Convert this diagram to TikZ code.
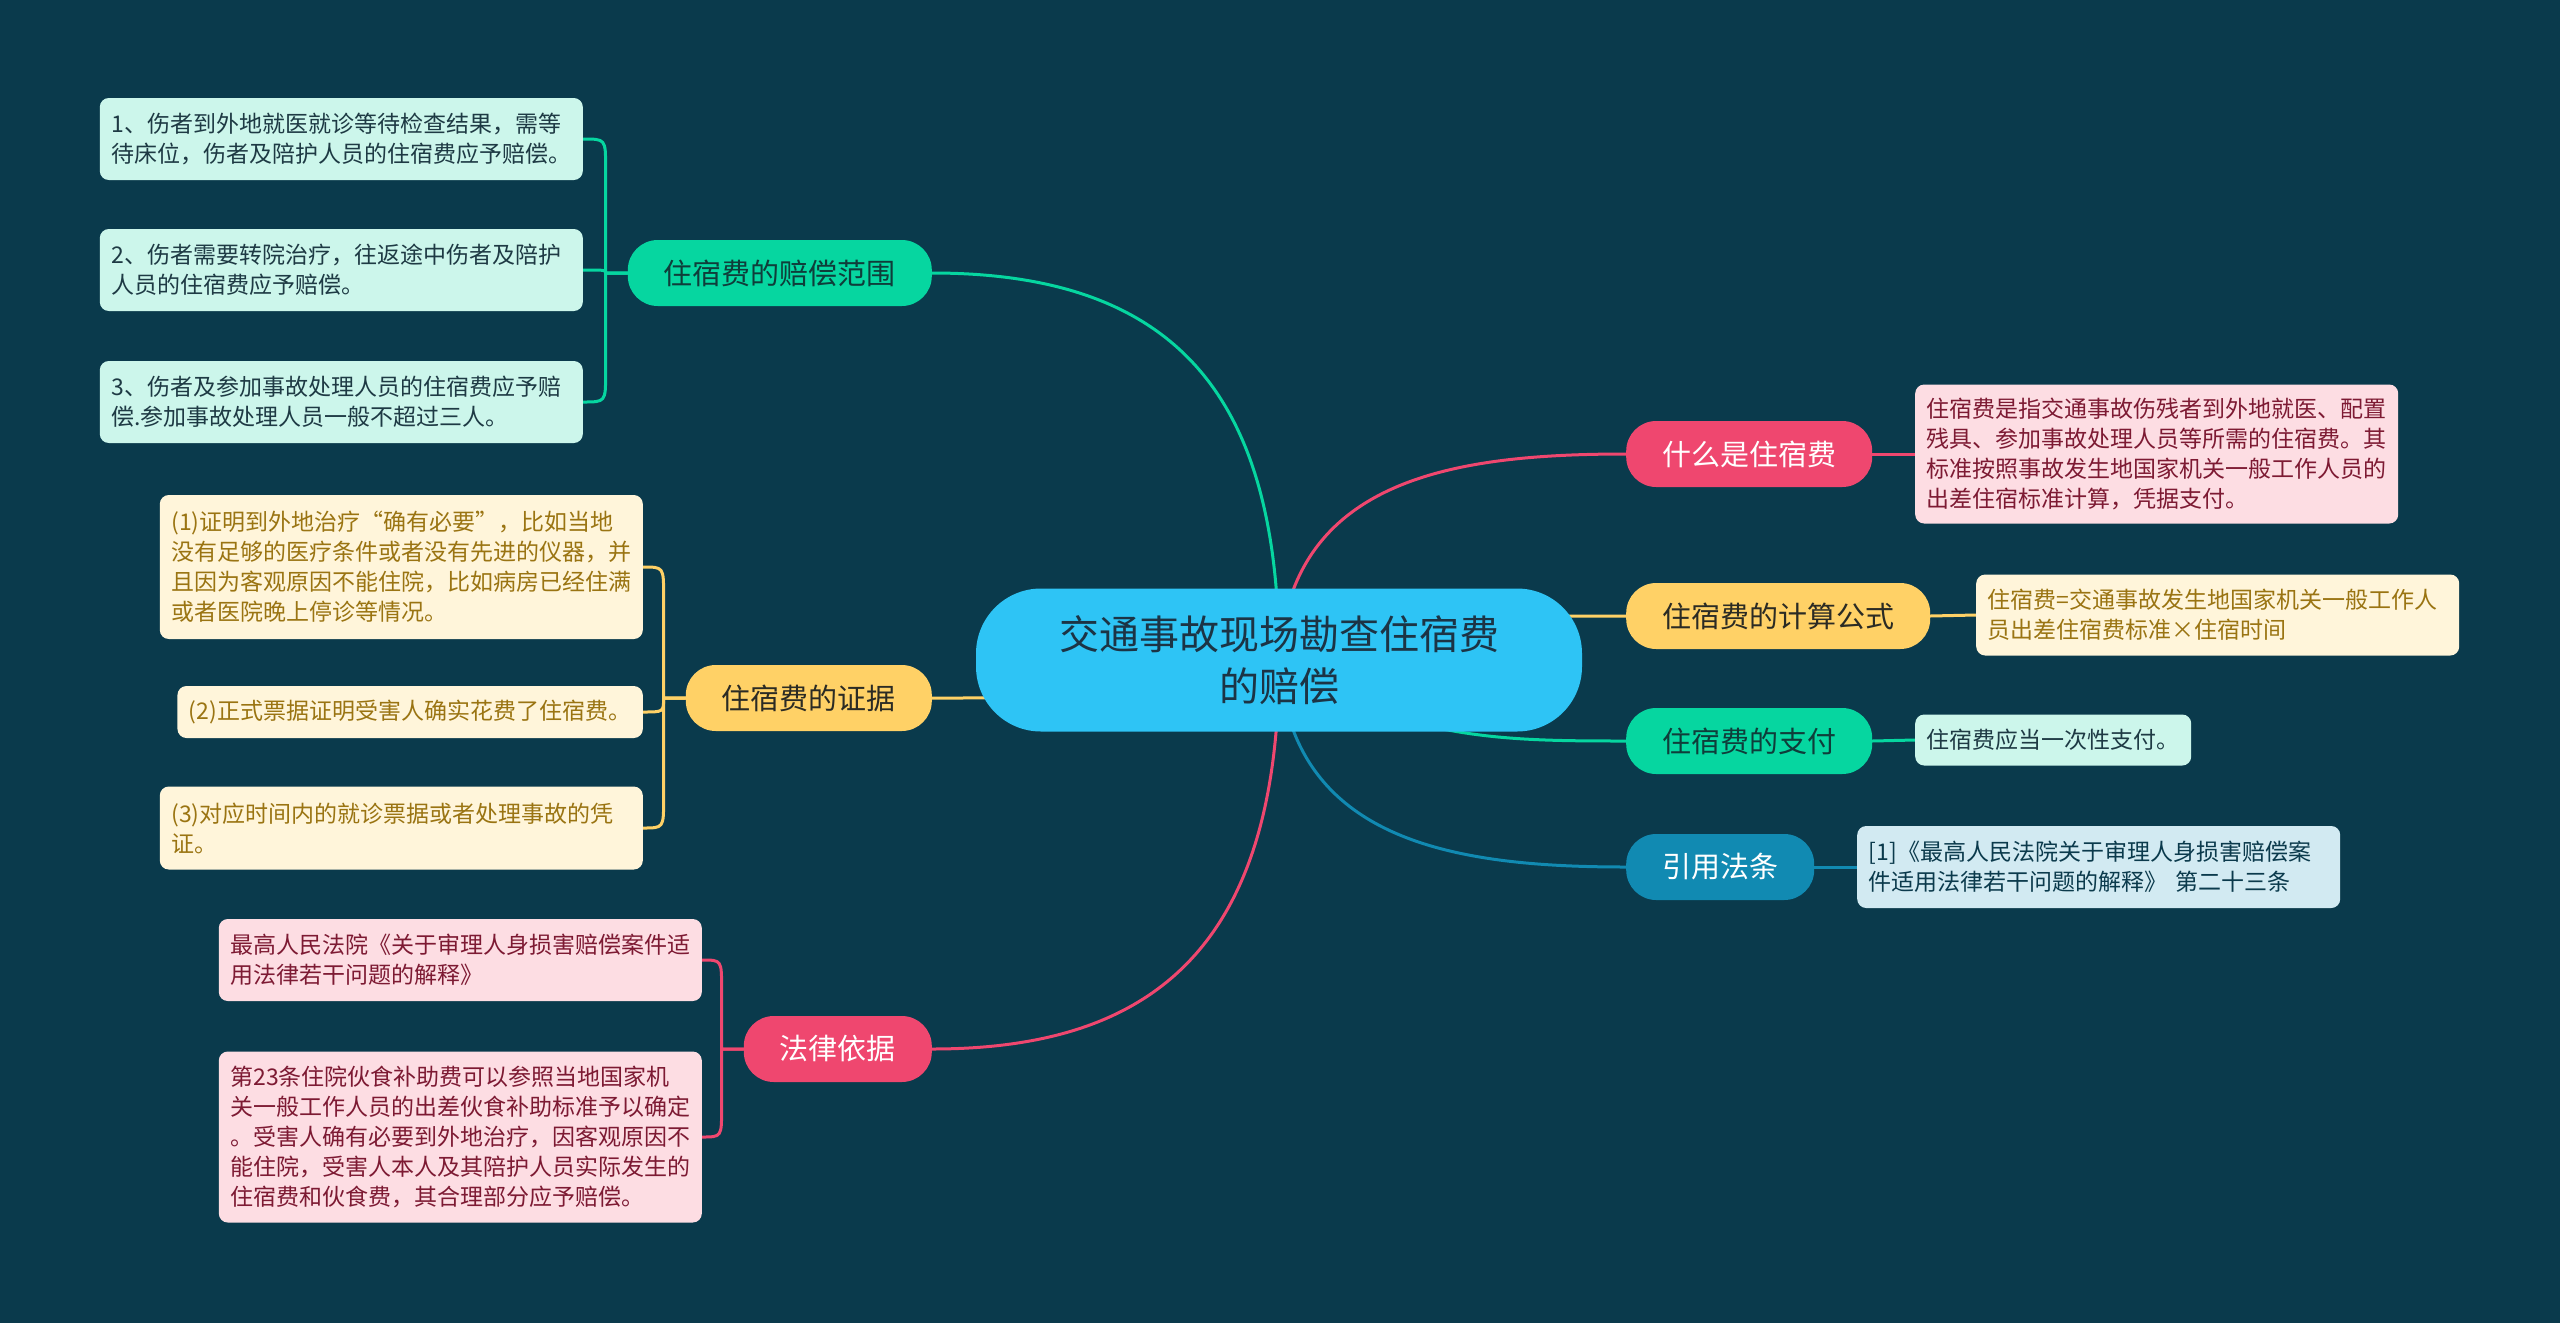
\documentclass[tikz,border=0pt]{standalone}
\usepackage{fontspec}
\newfontfamily\cjk{Noto Sans CJK SC}
\usetikzlibrary{calc}
\pgfdeclarelayer{bg}
\pgfsetlayers{bg,main}
\definecolor{bgc}{HTML}{0A3A4C}
\definecolor{cblue}{HTML}{2EC4F5}
\definecolor{ctext}{HTML}{1C3445}
\definecolor{gr}{HTML}{06D6A0}
\definecolor{rd}{HTML}{EF476F}
\definecolor{yl}{HTML}{FFD166}
\definecolor{bl}{HTML}{118AB2}
\definecolor{darkg}{HTML}{0F3D3A}
\definecolor{darky}{HTML}{2B2B24}
\definecolor{mintfill}{HTML}{CCF6EB}
\definecolor{minttext}{HTML}{1E3A44}
\definecolor{creamfill}{HTML}{FFF5DA}
\definecolor{creamtext}{HTML}{9A7412}
\definecolor{pinkfill}{HTML}{FDDDE3}
\definecolor{pinktext}{HTML}{7D1A33}
\definecolor{bluefill}{HTML}{D2EAF2}
\definecolor{bluetext}{HTML}{0B3A4C}
\newcommand\leafconn[5]{%
  \draw[#1] (#2.west) -- (#3) -- ($(#3 |- #4.east)+(0,#5)$) .. controls (#3 |- #4.east) .. (#4.east);}
\begin{document}
\begin{tikzpicture}[x=1pt,y=-1pt,
  rootnode/.style={fill=cblue, text=ctext, rounded corners=65, minimum width=606, minimum height=143,
    align=center, inner sep=0, font=\cjk\fontsize{40}{52}\selectfont},
  branch/.style={rounded corners=30, minimum height=66, inner xsep=36, inner ysep=0,
    font=\cjk\fontsize{29}{35}\selectfont},
  gbr/.style={branch, fill=gr, text=darkg},
  ybr/.style={branch, fill=yl, text=darky},
  rbr/.style={branch, fill=rd, text=white},
  bbr/.style={branch, fill=bl, text=white},
  leaf/.style={rounded corners=9, inner xsep=11.5, inner ysep=0, align=left,
    font=\cjk\fontsize{23}{30}\selectfont},
  wide/.style={text width=460},
  mleaf/.style={leaf, fill=mintfill, text=minttext},
  cleaf/.style={leaf, fill=creamfill, text=creamtext},
  pleaf/.style={leaf, fill=pinkfill, text=pinktext},
  bleaf/.style={leaf, fill=bluefill, text=bluetext},
  conn/.style={line width=3, line cap=round},
  gline/.style={conn, draw=gr},
  rline/.style={conn, draw=rd},
  yline/.style={conn, draw=yl},
  bline/.style={conn, draw=bl}]
\useasboundingbox (0,0) rectangle (2560,1323);
\begin{pgfonlayer}{bg}
  \fill[bgc] (0,0) rectangle (2560,1323);
\end{pgfonlayer}

% root
\node[rootnode] (root) at (1279,660) {交通事故现场勘查住宿费\\的赔偿};

% branches
\node[gbr, anchor=east] (bA) at (932,273) {住宿费的赔偿范围};
\node[ybr, anchor=east] (bB) at (932,698) {住宿费的证据};
\node[rbr, anchor=east] (bC) at (932,1049) {法律依据};
\node[rbr, anchor=west] (bD) at (1626,454) {什么是住宿费};
\node[ybr, anchor=west] (bE) at (1626,616) {住宿费的计算公式};
\node[gbr, anchor=west] (bF) at (1626,741) {住宿费的支付};
\node[bbr, anchor=west] (bG) at (1626,867) {引用法条};

% leaves left
\node[mleaf, wide, anchor=east, minimum height=82] (l1) at (583,139) {1、伤者到外地就医就诊等待检查结果，需等\\待床位，伤者及陪护人员的住宿费应予赔偿。};
\node[mleaf, wide, anchor=east, minimum height=82] (l2) at (583,270) {2、伤者需要转院治疗，往返途中伤者及陪护\\人员的住宿费应予赔偿。};
\node[mleaf, wide, anchor=east, minimum height=82] (l3) at (583,402) {3、伤者及参加事故处理人员的住宿费应予赔\\偿.参加事故处理人员一般不超过三人。};

\node[cleaf, wide, anchor=east, minimum height=144] (e1) at (643,567) {(1)证明到外地治疗“确有必要”，比如当地\\没有足够的医疗条件或者没有先进的仪器，并\\且因为客观原因不能住院，比如病房已经住满\\或者医院晚上停诊等情况。};
\node[cleaf, anchor=east, minimum height=52] (e2) at (643,712) {(2)正式票据证明受害人确实花费了住宿费。};
\node[cleaf, wide, anchor=east, minimum height=83] (e3) at (643,828) {(3)对应时间内的就诊票据或者处理事故的凭\\证。};

\node[pleaf, wide, anchor=east, minimum height=82] (f1) at (702,960) {最高人民法院《关于审理人身损害赔偿案件适\\用法律若干问题的解释》};
\node[pleaf, wide, anchor=east, minimum height=171] (f2) at (702,1137) {第23条住院伙食补助费可以参照当地国家机\\关一般工作人员的出差伙食补助标准予以确定\\。受害人确有必要到外地治疗，因客观原因不\\能住院，受害人本人及其陪护人员实际发生的\\住宿费和伙食费，其合理部分应予赔偿。};

% leaves right
\node[pleaf, wide, anchor=west, minimum height=139] (r1) at (1915,454) {住宿费是指交通事故伤残者到外地就医、配置\\残具、参加事故处理人员等所需的住宿费。其\\标准按照事故发生地国家机关一般工作人员的\\出差住宿标准计算，凭据支付。};
\node[cleaf, wide, anchor=west, minimum height=81] (r2) at (1976,615) {住宿费=交通事故发生地国家机关一般工作人\\员出差住宿费标准×住宿时间};
\node[mleaf, anchor=west, minimum height=51] (r3) at (1915,740) {住宿费应当一次性支付。};
\node[bleaf, wide, anchor=west, minimum height=82] (r4) at (1857,867) {[1]《最高人民法院关于审理人身损害赔偿案\\件适用法律若干问题的解释》 第二十三条};

\begin{pgfonlayer}{bg}
  % main connectors
  \draw[gline] (root.center) .. controls (1279,400) and (1180,273) .. (bA.east);
  \draw[yline] (root.center) .. controls (1100,698) .. (bB.east);
  \draw[rline] (root.center) .. controls (1279,950) and (1150,1049) .. (bC.east);
  \draw[rline] (root.center) .. controls (1290,480) and (1450,454) .. (bD.west);
  \draw[yline] (root.center) .. controls (1450,616) .. (bE.west);
  \draw[gline] (root.center) .. controls (1400,740) and (1500,741) .. (bF.west);
  \draw[bline] (root.center) .. controls (1290,840) and (1450,867) .. (bG.west);

  % bars
  \coordinate (barA) at ($(bA.west)+(-22,0)$);
  \coordinate (barB) at ($(bB.west)+(-22,0)$);
  \coordinate (barC) at ($(bC.west)+(-22,0)$);

  \leafconn{gline}{bA}{barA}{l1}{28}
  \leafconn{gline}{bA}{barA}{l2}{3}
  \leafconn{gline}{bA}{barA}{l3}{-28}
  \leafconn{yline}{bB}{barB}{e1}{28}
  \leafconn{yline}{bB}{barB}{e2}{-14}
  \leafconn{yline}{bB}{barB}{e3}{-28}
  \leafconn{rline}{bC}{barC}{f1}{28}
  \leafconn{rline}{bC}{barC}{f2}{-28}

  \draw[rline] (bD.east) -- (r1.west);
  \draw[yline] (bE.east) -- (r2.west);
  \draw[gline] (bF.east) -- (r3.west);
  \draw[bline] (bG.east) -- (r4.west);
\end{pgfonlayer}
\end{tikzpicture}
\end{document}
